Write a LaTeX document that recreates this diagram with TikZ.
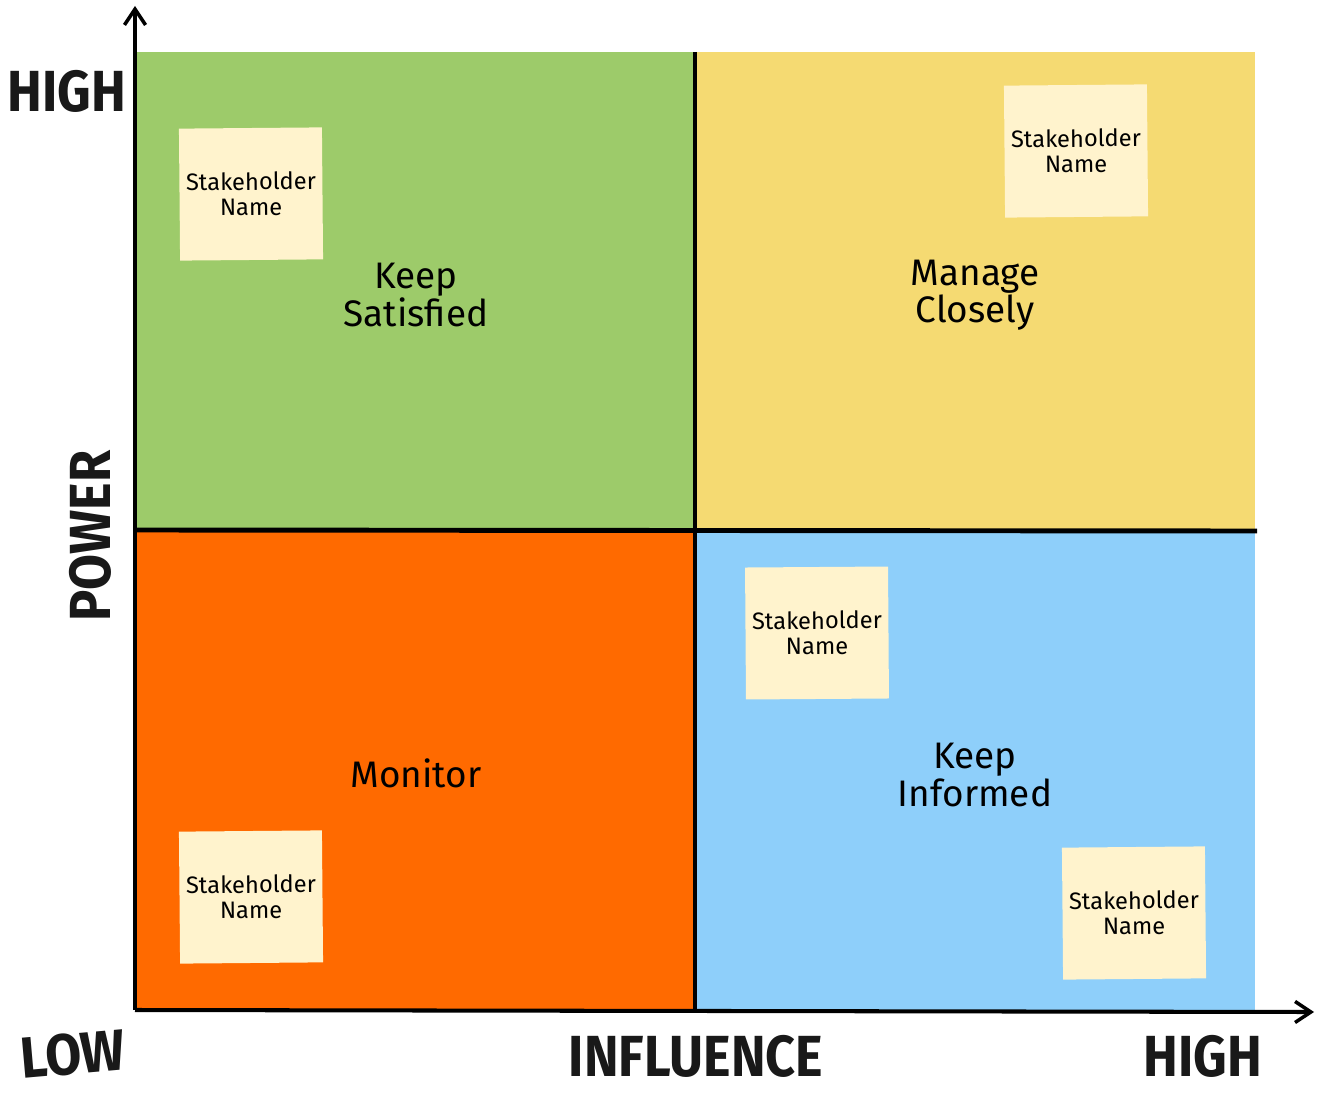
\documentclass[tikz,border=0pt]{standalone}
\usepackage{fontspec}
\setmainfont{Fira Sans}
\newfontfamily\axisfont{Fira Sans}[UprightFont={* Bold}]
\usetikzlibrary{arrows.meta}
\definecolor{qgreen}{HTML}{9DCB6A}
\definecolor{qyellow}{HTML}{F5DA72}
\definecolor{qorange}{HTML}{FF6A00}
\definecolor{qblue}{HTML}{8ECFFA}
\definecolor{sticky}{HTML}{FFF3CD}
\tikzset{
  sticknote/.style={fill=sticky, minimum width=2.86cm, minimum height=2.64cm, inner sep=0pt, align=center, font=\fontsize{13.5}{14.5}\selectfont, text=black},
  quadlabel/.style={align=center, font=\fontsize{21}{19}\selectfont, text=black},
  axislabel/.style={font=\axisfont\fontsize{33}{33}\selectfont, text=black!90, xscale=0.9},
  axisline/.style={line width=2.3pt, -{Straight Barb[length=9pt,width=12pt,line width=2pt]}},
  divider/.style={line width=2.8pt}
}
\begin{document}
\begin{tikzpicture}[x=0.02cm,y=-0.02cm]
\useasboundingbox (0,0) rectangle (1321,1094);
\fill[white] (0,0) rectangle (1321,1094);
% quadrants
\fill[qgreen]  (135,52) rectangle (695,530);
\fill[qyellow] (695,52) rectangle (1255,530);
\fill[qorange] (135,530) rectangle (695,1010);
\fill[qblue]   (695,530) rectangle (1255,1010);
% dividers
\coordinate (vtop) at (695,52);
\coordinate (vbot) at (695,1010);
\coordinate (hleft) at (135,530);
\coordinate (hright) at (1257,531);
\draw[divider] (vtop) -- (vbot);
\draw[divider] (hleft) -- (hright);
% axes
\coordinate (origin) at (135,1010);
\coordinate (ytip) at (135,6);
\coordinate (xtip) at (1314,1012);
\draw[axisline] (origin) -- (ytip);
\draw[axisline] (origin) -- (xtip);
% sticky notes
\node[sticknote, rotate=0.5] (s1) at (251,194) {Stakeholder\\Name};
\node[sticknote, rotate=0.5] (s2) at (1076,151) {Stakeholder\\Name};
\node[sticknote, rotate=0.4] (s3) at (817,633) {Stakeholder\\Name};
\node[sticknote, rotate=0.5] (s4) at (251,897) {Stakeholder\\Name};
\node[sticknote, rotate=0.5] (s5) at (1134,913) {Stakeholder\\Name};
% quadrant labels
\node[quadlabel] (ks) at (416,295) {Keep\\Satisfied};
\node[quadlabel] (mc) at (975,295) {Manage\\Closely};
\node[quadlabel] (mo) at (416,773) {Monitor};
\node[quadlabel] (ki) at (975,775) {Keep\\Informed};
% axis labels
\node[axislabel] (yhigh) at (67,91) {HIGH};
\node[rotate=90, axislabel] (power) at (90,536) {POWER};
\node[rotate=5, axislabel] (low) at (73,1054) {LOW};
\node[axislabel] (infl) at (696,1056) {INFLUENCE};
\node[axislabel] (xhigh) at (1203,1056) {HIGH};
\end{tikzpicture}
\end{document}
